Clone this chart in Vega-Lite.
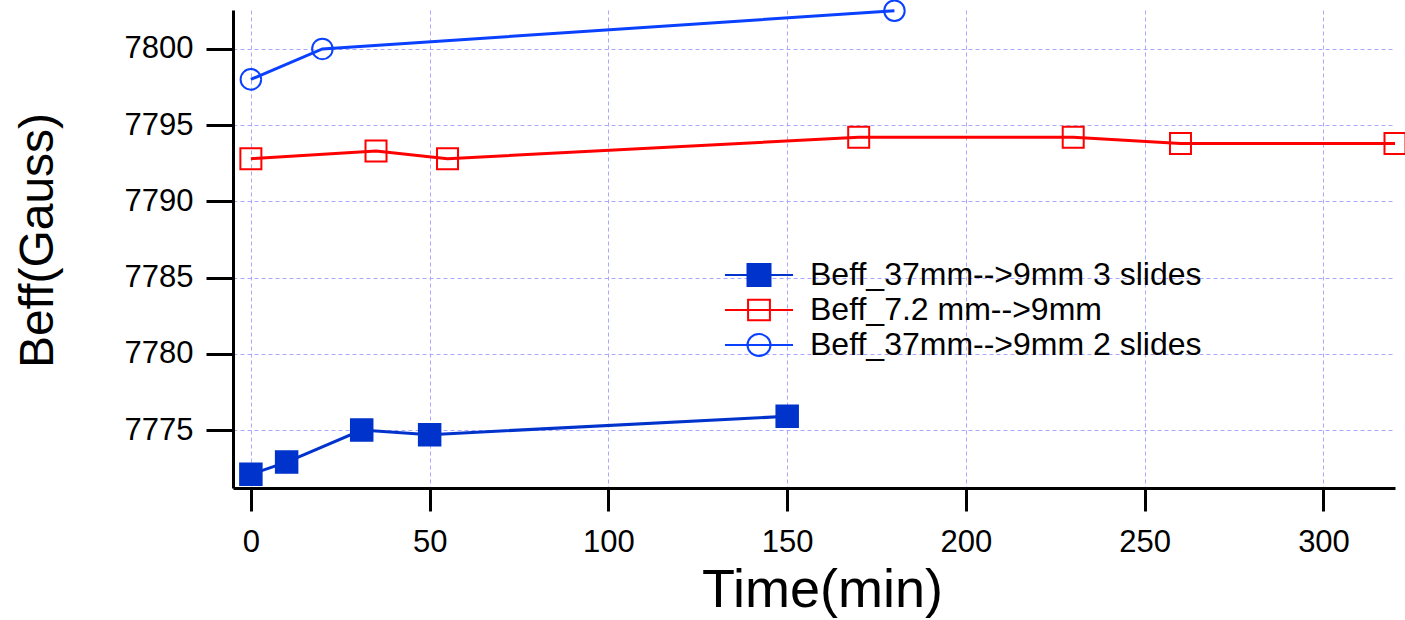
{
  "$schema": "https://vega.github.io/schema/vega-lite/v6.json",
  "width": 1162,
  "height": 478,
  "autosize": {"type": "none"},
  "padding": {"left": 233, "top": 10, "right": 10, "bottom": 132},
  "background": "white",
  "config": {"view": {"stroke": null}, "font": "Liberation Sans"},
  "data": {
    "values": [
      {"series": "Beff_37mm-->9mm 3 slides", "time": 0, "beff": 7772.1},
      {"series": "Beff_37mm-->9mm 3 slides", "time": 10, "beff": 7772.9},
      {"series": "Beff_37mm-->9mm 3 slides", "time": 31, "beff": 7775.0},
      {"series": "Beff_37mm-->9mm 3 slides", "time": 50, "beff": 7774.7},
      {"series": "Beff_37mm-->9mm 3 slides", "time": 150, "beff": 7775.9},
      {"series": "Beff_7.2 mm-->9mm", "time": 0, "beff": 7792.8},
      {"series": "Beff_7.2 mm-->9mm", "time": 35, "beff": 7793.3},
      {"series": "Beff_7.2 mm-->9mm", "time": 55, "beff": 7792.8},
      {"series": "Beff_7.2 mm-->9mm", "time": 170, "beff": 7794.2},
      {"series": "Beff_7.2 mm-->9mm", "time": 230, "beff": 7794.2},
      {"series": "Beff_7.2 mm-->9mm", "time": 260, "beff": 7793.8},
      {"series": "Beff_7.2 mm-->9mm", "time": 320, "beff": 7793.8},
      {"series": "Beff_37mm-->9mm 2 slides", "time": 0, "beff": 7798.0},
      {"series": "Beff_37mm-->9mm 2 slides", "time": 20, "beff": 7800.0},
      {"series": "Beff_37mm-->9mm 2 slides", "time": 180, "beff": 7802.5}
    ]
  },
  "encoding": {
    "x": {
      "field": "time", "type": "quantitative",
      "scale": {"domain": [-5, 320], "nice": false, "zero": false},
      "axis": {
        "title": "Time(min)", "titleFontSize": 54, "titleFontWeight": "normal", "titleColor": "black",
        "titleX": 589, "titleY": 118, "titleBaseline": "alphabetic", "titleAnchor": null,
        "values": [0, 50, 100, 150, 200, 250, 300],
        "labelFontSize": 31, "labelColor": "black", "labelPadding": 16,
        "tickSize": 23, "tickWidth": 3, "tickColor": "black",
        "domainColor": "black", "domainWidth": 3,
        "grid": true, "gridColor": "#a8a8ff", "gridDash": [4, 3], "gridWidth": 1
      }
    },
    "y": {
      "field": "beff", "type": "quantitative",
      "scale": {"domain": [7771.2, 7802.55], "nice": false, "zero": false},
      "axis": {
        "title": "Beff(Gauss)", "titleFontSize": 48, "titleFontWeight": "normal", "titleColor": "black",
        "titleX": -181, "titleY": 230, "titleBaseline": "alphabetic", "titleAngle": -90, "titleAlign": "center", "titleAnchor": null,
        "values": [7775, 7780, 7785, 7790, 7795, 7800], "format": "d",
        "labelFontSize": 31, "labelColor": "black", "labelPadding": 13,
        "tickSize": 27, "tickWidth": 3, "tickColor": "black",
        "domainColor": "black", "domainWidth": 3,
        "grid": true, "gridColor": "#a8a8ff", "gridDash": [4, 3], "gridWidth": 1
      }
    }
  },
  "resolve": {"scale": {"shape": "independent", "fill": "independent", "stroke": "independent"}},
  "layer": [
    {
      "mark": {"type": "line", "strokeWidth": 3},
      "encoding": {
        "color": {
          "field": "series", "type": "nominal",
          "scale": {
            "domain": ["Beff_37mm-->9mm 3 slides", "Beff_7.2 mm-->9mm", "Beff_37mm-->9mm 2 slides"],
            "range": ["#0033cc", "#ff0000", "#0a40ff"]
          },
          "legend": null
        }
      }
    },
    {
      "mark": {"type": "point", "strokeWidth": 2, "opacity": 1},
      "encoding": {
        "shape": {
          "field": "series", "type": "nominal",
          "scale": {
            "domain": ["Beff_37mm-->9mm 3 slides", "Beff_7.2 mm-->9mm", "Beff_37mm-->9mm 2 slides"],
            "range": ["square", "square", "circle"]
          },
          "legend": null
        },
        "stroke": {
          "field": "series", "type": "nominal",
          "scale": {
            "domain": ["Beff_37mm-->9mm 3 slides", "Beff_7.2 mm-->9mm", "Beff_37mm-->9mm 2 slides"],
            "range": ["#0033cc", "#ff0000", "#0a40ff"]
          },
          "legend": null
        },
        "fill": {
          "field": "series", "type": "nominal",
          "scale": {
            "domain": ["Beff_37mm-->9mm 3 slides", "Beff_7.2 mm-->9mm", "Beff_37mm-->9mm 2 slides"],
            "range": ["#0033cc", "transparent", "transparent"]
          },
          "legend": null
        },
        "size": {
          "field": "series", "type": "nominal",
          "scale": {
            "domain": ["Beff_37mm-->9mm 3 slides", "Beff_7.2 mm-->9mm", "Beff_37mm-->9mm 2 slides"],
            "range": [462, 420, 340]
          },
          "legend": null
        }
      }
    },
    {
      "transform": [{"filter": "false"}],
      "mark": {"type": "point", "strokeWidth": 2, "opacity": 1},
      "encoding": {
        "shape": {
          "field": "series", "type": "nominal",
          "scale": {
            "domain": ["Beff_37mm-->9mm 3 slides", "Beff_7.2 mm-->9mm", "Beff_37mm-->9mm 2 slides"],
            "range": [
              "M-2.96,0H2.96M-1,-0.95H1V0.95H-1Z",
              "M-2.96,0H2.96M-0.95,-0.9H0.95V0.9H-0.95Z",
              "M-2.96,0H2.96M1,0A1,0.95,0,1,1,-1,0A1,0.95,0,1,1,1,0Z"
            ]
          },
          "legend": {
            "title": null, "orient": "none", "legendX": 510, "legendY": 249,
            "padding": 0, "labelFontSize": 32, "labelColor": "black", "labelFont": "Liberation Sans", "labelLimit": 800,
            "symbolSize": 529, "symbolStrokeWidth": 2, "symbolOpacity": 1, "labelOffset": 35, "rowPadding": 3
          }
        },
        "stroke": {
          "field": "series", "type": "nominal",
          "scale": {
            "domain": ["Beff_37mm-->9mm 3 slides", "Beff_7.2 mm-->9mm", "Beff_37mm-->9mm 2 slides"],
            "range": ["#0033cc", "#ff0000", "#0a40ff"]
          },
          "legend": {
            "title": null, "orient": "none", "legendX": 510, "legendY": 249,
            "padding": 0, "labelFontSize": 32, "labelColor": "black", "labelFont": "Liberation Sans", "labelLimit": 800,
            "symbolSize": 529, "symbolStrokeWidth": 2, "symbolOpacity": 1, "labelOffset": 35, "rowPadding": 3
          }
        },
        "fill": {
          "field": "series", "type": "nominal",
          "scale": {
            "domain": ["Beff_37mm-->9mm 3 slides", "Beff_7.2 mm-->9mm", "Beff_37mm-->9mm 2 slides"],
            "range": ["#0033cc", "transparent", "transparent"]
          },
          "legend": {
            "title": null, "orient": "none", "legendX": 510, "legendY": 249,
            "padding": 0, "labelFontSize": 32, "labelColor": "black", "labelFont": "Liberation Sans", "labelLimit": 800,
            "symbolSize": 529, "symbolStrokeWidth": 2, "symbolOpacity": 1, "labelOffset": 35, "rowPadding": 3
          }
        }
      }
    }
  ]
}
